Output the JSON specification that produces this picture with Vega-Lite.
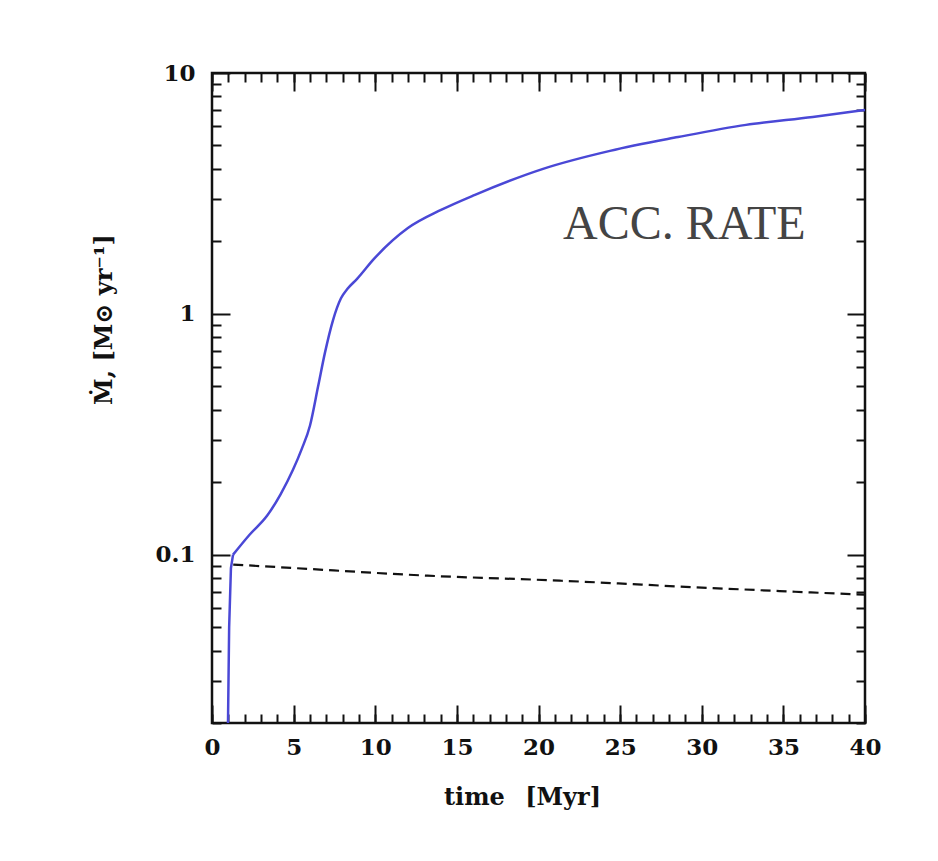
{
  "$schema": "https://vega.github.io/schema/vega-lite/v6.json",
  "width": 653,
  "height": 650,
  "autosize": {"type": "none"},
  "padding": {"left": 212, "top": 73, "right": 73, "bottom": 138},
  "background": "#ffffff",
  "config": {
    "view": {"stroke": "#111111", "strokeWidth": 2.5},
    "axis": {
      "domain": false,
      "grid": false,
      "tickColor": "#111111",
      "tickWidth": 2,
      "labelFont": "DejaVu Serif",
      "labelFontWeight": "bold",
      "labelFontSize": 23,
      "labelColor": "#111111",
      "titleFont": "DejaVu Serif",
      "titleFontWeight": "bold",
      "titleFontSize": 24,
      "titleColor": "#111111"
    }
  },
  "datasets": {
    "rate": [
      {"t": 0.98, "mdot": 0.02, "part": "onset"},
      {"t": 1.05, "mdot": 0.05, "part": "onset"},
      {"t": 1.16, "mdot": 0.088, "part": "onset"},
      {"t": 1.29, "mdot": 0.1, "part": "onset"},
      {"t": 1.29, "mdot": 0.1, "part": "growth"},
      {"t": 2.3, "mdot": 0.121, "part": "growth"},
      {"t": 3.37, "mdot": 0.145, "part": "growth"},
      {"t": 4.2, "mdot": 0.178, "part": "growth"},
      {"t": 4.96, "mdot": 0.225, "part": "growth"},
      {"t": 5.5, "mdot": 0.275, "part": "growth"},
      {"t": 6.0, "mdot": 0.343, "part": "growth"},
      {"t": 6.5, "mdot": 0.5, "part": "growth"},
      {"t": 6.92, "mdot": 0.69, "part": "growth"},
      {"t": 7.41, "mdot": 0.94, "part": "growth"},
      {"t": 7.9, "mdot": 1.16, "part": "growth"},
      {"t": 8.3, "mdot": 1.27, "part": "growth"},
      {"t": 8.9, "mdot": 1.4, "part": "growth"},
      {"t": 9.92, "mdot": 1.69, "part": "growth"},
      {"t": 12.0, "mdot": 2.27, "part": "growth"},
      {"t": 14.03, "mdot": 2.7, "part": "growth"},
      {"t": 16.11, "mdot": 3.12, "part": "growth"},
      {"t": 20.28, "mdot": 4.0, "part": "growth"},
      {"t": 24.38, "mdot": 4.75, "part": "growth"},
      {"t": 28.55, "mdot": 5.42, "part": "growth"},
      {"t": 32.71, "mdot": 6.09, "part": "growth"},
      {"t": 36.8, "mdot": 6.57, "part": "growth"},
      {"t": 40.0, "mdot": 7.02, "part": "growth"}
    ],
    "dashed": [
      {"t": 1.3, "mdot": 0.091},
      {"t": 5.0, "mdot": 0.088},
      {"t": 13.2, "mdot": 0.0818},
      {"t": 21.3, "mdot": 0.078},
      {"t": 30.0, "mdot": 0.073},
      {"t": 40.0, "mdot": 0.0682}
    ],
    "annot": [
      {"t": 21.5, "mdot": 2.05, "label": "ACC. RATE"}
    ]
  },
  "layer": [
    {
      "data": {"name": "rate"},
      "transform": [{"filter": "datum.part === 'onset'"}],
      "mark": {"type": "line", "color": "#4a48d6", "strokeWidth": 2.5},
      "encoding": {
        "x": {
          "field": "t", "type": "quantitative",
          "scale": {"domain": [0, 40], "nice": false, "zero": false},
          "axis": {
            "orient": "bottom",
            "values": [0, 5, 10, 15, 20, 25, 30, 35, 40],
            "tickSize": -18,
            "labelPadding": 31,
            "labelFlush": false,
            "title": "time\u2002 [Myr]",
            "titleX": 310,
            "titleY": 74,
            "titleBaseline": "middle",
            "titleAlign": "center"
          }
        },
        "y": {
          "field": "mdot", "type": "quantitative",
          "scale": {"type": "log", "domain": [0.02, 10], "nice": false},
          "axis": {
            "orient": "left",
            "values": [0.1, 1, 10],
            "format": "~g",
            "tickSize": -18,
            "labelPadding": 35,
            "labelFlush": false,
            "title": "Ṁ, [M⊙ yr⁻¹]",
            "titleX": -108,
            "titleY": 246,
            "titleAngle": -90,
            "titleBaseline": "middle",
            "titleAlign": "center"
          }
        }
      }
    },
    {
      "data": {"name": "rate"},
      "transform": [{"filter": "datum.part === 'growth'"}],
      "mark": {"type": "line", "color": "#4a48d6", "strokeWidth": 2.5, "interpolate": "monotone"},
      "encoding": {
        "x": {
          "field": "t", "type": "quantitative",
          "scale": {"domain": [0, 40], "nice": false, "zero": false},
          "axis": {
            "orient": "bottom",
            "values": [0,1,2,3,4,5,6,7,8,9,10,11,12,13,14,15,16,17,18,19,20,21,22,23,24,25,26,27,28,29,30,31,32,33,34,35,36,37,38,39,40],
            "tickSize": -9,
            "labels": false,
            "title": null
          }
        },
        "y": {
          "field": "mdot", "type": "quantitative",
          "scale": {"type": "log", "domain": [0.02, 10], "nice": false},
          "axis": {
            "orient": "left",
            "values": [0.02,0.03,0.04,0.05,0.06,0.07,0.08,0.09,0.2,0.3,0.4,0.5,0.6,0.7,0.8,0.9,2,3,4,5,6,7,8,9],
            "tickSize": -9,
            "labels": false,
            "title": null
          }
        }
      }
    },
    {
      "data": {"name": "dashed"},
      "mark": {"type": "line", "color": "#111111", "strokeWidth": 2.2, "strokeDash": [10, 6], "interpolate": "monotone"},
      "encoding": {
        "x": {
          "field": "t", "type": "quantitative",
          "scale": {"domain": [0, 40], "nice": false, "zero": false},
          "axis": {
            "orient": "top",
            "values": [0, 5, 10, 15, 20, 25, 30, 35, 40],
            "tickSize": -18,
            "labels": false,
            "title": null
          }
        },
        "y": {
          "field": "mdot", "type": "quantitative",
          "scale": {"type": "log", "domain": [0.02, 10], "nice": false},
          "axis": {
            "orient": "right",
            "values": [0.1, 1, 10],
            "tickSize": -18,
            "labels": false,
            "title": null
          }
        }
      }
    },
    {
      "data": {"name": "annot"},
      "mark": {"type": "text", "font": "Liberation Serif", "fontSize": 48, "color": "#444444", "align": "left", "baseline": "alphabetic"},
      "encoding": {
        "x": {
          "field": "t", "type": "quantitative",
          "scale": {"domain": [0, 40], "nice": false, "zero": false},
          "axis": {
            "orient": "top",
            "values": [0,1,2,3,4,5,6,7,8,9,10,11,12,13,14,15,16,17,18,19,20,21,22,23,24,25,26,27,28,29,30,31,32,33,34,35,36,37,38,39,40],
            "tickSize": -9,
            "labels": false,
            "title": null
          }
        },
        "y": {
          "field": "mdot", "type": "quantitative",
          "scale": {"type": "log", "domain": [0.02, 10], "nice": false},
          "axis": {
            "orient": "right",
            "values": [0.02,0.03,0.04,0.05,0.06,0.07,0.08,0.09,0.2,0.3,0.4,0.5,0.6,0.7,0.8,0.9,2,3,4,5,6,7,8,9],
            "tickSize": -9,
            "labels": false,
            "title": null
          }
        },
        "text": {"field": "label", "type": "nominal"}
      }
    }
  ],
  "resolve": {"axis": {"x": "independent", "y": "independent"}}
}
